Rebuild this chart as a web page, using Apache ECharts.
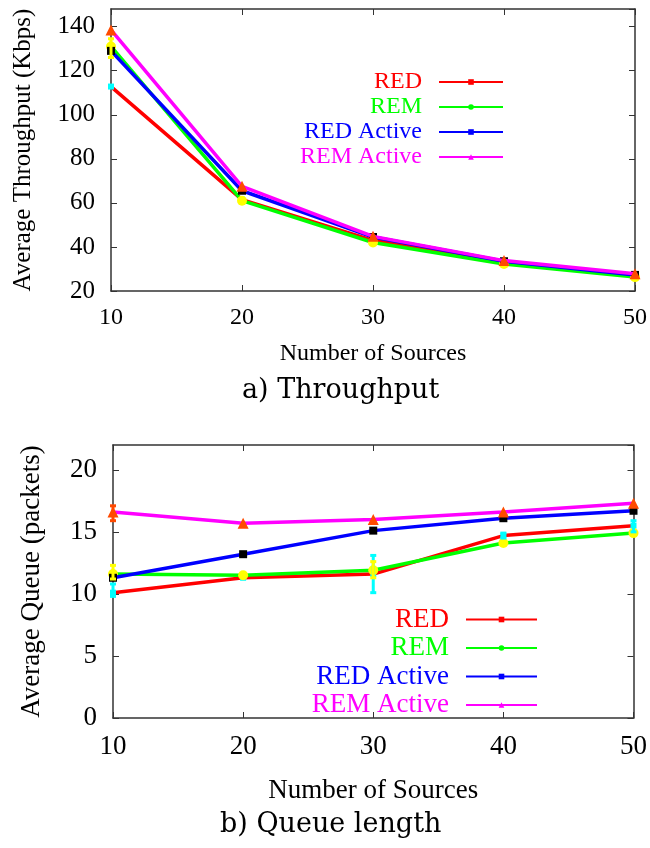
<!DOCTYPE html>
<html>
<head>
<meta charset="utf-8">
<script src="https://cdn.jsdelivr.net/npm/echarts@6/dist/echarts.min.js"></script>
<style>
  html, body { margin: 0; padding: 0; background: #fff; }
  #chart { width: 650px; height: 848px; }
</style>
</head>
<body>
<div id="chart"></div>
<script>
// x values (number of sources)
const sources = [10, 20, 30, 40, 50]
const seriesNames = ['RED', 'REM', 'RED Active', 'REM Active']

// a) throughput, Kbps
const thrRed = [112.8, 61.5, 43.0, 33.0, 27.0]
const thrRem = [131.0, 61.0, 42.0, 32.3, 26.3]
const thrRedActive = [129.0, 65.5, 44.5, 33.5, 27.3]
const thrRemActive = [138.5, 67.5, 44.8, 33.8, 27.8]

// b) queue length, packets
const qRed = [10.1, 11.3, 11.6, 14.7, 15.5]
const qRem = [11.6, 11.5, 11.9, 14.1, 14.9]
const qRedActive = [11.3, 13.2, 15.1, 16.1, 16.7]
const qRemActive = [16.6, 15.7, 16.0, 16.6, 17.3]

// error bars: [x, low, high]
const thrRemErr = [[10, 126, 134.5]]
const qRedErr = [[10, 9.8, 10.8], [30, 10.1, 13.1], [40, 14.5, 14.9], [50, 15.0, 15.9]]
const qRemErr = [[10, 11.2, 12.3], [30, 11.3, 12.6]]
const qRemActiveErr = [[10, 15.9, 17.1]]

const lineColors = ['#ff0000', '#00ff00', '#0000ff', '#ff00ff']
const markColors = ['#00ffff', '#ffff00', '#000000', '#ff4a00']
const markSymbols = ['rect', 'circle', 'rect', 'triangle']
const markSizes = [6, 10, 8, 11]

const serif = '"Liberation Serif", "Times New Roman", serif'
const capFont = '"DejaVu Serif", serif'
const axisColor = '#333'

function pairs (ys) {
  return ys.map((y, i) => [sources[i], y])
}

function lineSeries (name, i, ys, gi) {
  return {
    type: 'line',
    name,
    xAxisIndex: gi * 2,
    yAxisIndex: gi * 2,
    data: pairs(ys),
    symbol: markSymbols[i],
    symbolSize: markSizes[i],
    itemStyle: { color: markColors[i] },
    lineStyle: { color: lineColors[i], width: 3.5 },
    z: 2 + i,
    animation: false
  }
}

function errSeries (data, color, gi) {
  return {
    type: 'custom',
    xAxisIndex: gi * 2,
    yAxisIndex: gi * 2,
    data,
    z: 10,
    animation: false,
    renderItem: (params, api) => {
      const lo = api.coord([api.value(0), api.value(1)])
      const hi = api.coord([api.value(0), api.value(2)])
      const st = { stroke: color, lineWidth: 3 }
      return {
        type: 'group',
        children: [
          { type: 'line', shape: { x1: lo[0], y1: lo[1], x2: hi[0], y2: hi[1] }, style: st },
          { type: 'line', shape: { x1: lo[0] - 3, y1: lo[1], x2: lo[0] + 3, y2: lo[1] }, style: st },
          { type: 'line', shape: { x1: hi[0] - 3, y1: hi[1], x2: hi[0] + 3, y2: hi[1] }, style: st }
        ]
      }
    }
  }
}

function xAxes (gi, fontSize, name, nameGap) {
  return [
    {
      type: 'value', gridIndex: gi, min: 10, max: 50, interval: 10,
      name, nameLocation: 'middle', nameGap,
      nameTextStyle: { fontFamily: serif, fontSize, color: '#000' },
      axisLine: { onZero: false, lineStyle: { color: axisColor, width: 1.5 } },
      axisTick: { inside: true, length: 6, lineStyle: { color: axisColor } },
      axisLabel: { fontFamily: serif, fontSize, color: '#000', margin: 15 },
      splitLine: { show: false }
    },
    {
      type: 'value', gridIndex: gi, position: 'top', min: 10, max: 50, interval: 10,
      axisLine: { onZero: false, lineStyle: { color: axisColor, width: 1.5 } },
      axisTick: { inside: true, length: 6, lineStyle: { color: axisColor } },
      axisLabel: { show: false },
      splitLine: { show: false }
    }
  ]
}

function yAxes (gi, min, max, interval, fontSize, name, nameGap) {
  return [
    {
      type: 'value', gridIndex: gi, min, max, interval,
      name, nameLocation: 'middle', nameGap,
      nameTextStyle: { fontFamily: serif, fontSize, color: '#000' },
      axisLine: { show: true, onZero: false, lineStyle: { color: axisColor, width: 1.5 } },
      axisTick: { show: true, inside: true, length: 6, lineStyle: { color: axisColor } },
      axisLabel: { fontFamily: serif, fontSize, color: '#000', margin: 16, showMaxLabel: false },
      splitLine: { show: false }
    },
    {
      type: 'value', gridIndex: gi, position: 'right', min, max, interval,
      axisLine: { show: true, onZero: false, lineStyle: { color: axisColor, width: 1.5 } },
      axisTick: { show: true, inside: true, length: 6, lineStyle: { color: axisColor } },
      axisLabel: { show: false },
      splitLine: { show: false }
    }
  ]
}

function legend (top, right, fontSize, itemWidth, itemGap) {
  return {
    orient: 'vertical',
    top, right,
    padding: 0,
    align: 'right',
    itemWidth,
    itemHeight: 7,
    itemGap,
    selectedMode: false,
    textStyle: { fontFamily: serif, fontSize, lineHeight: fontSize, padding: [0, 12, 0, 0] },
    data: seriesNames.map((n, i) => ({
      name: n,
      itemStyle: { color: lineColors[i] },
      textStyle: { color: lineColors[i] }
    }))
  }
}

const chart = echarts.init(document.getElementById('chart'), null, { renderer: 'canvas' })

chart.setOption({
  backgroundColor: '#fff',
  animation: false,
  title: [
    { text: 'a) Throughput', left: 242, top: 377, padding: 0, textStyle: { fontFamily: capFont, fontWeight: 'normal', fontSize: 27, color: '#000' } },
    { text: 'b) Queue length', left: 220, top: 811, padding: 0, textStyle: { fontFamily: capFont, fontWeight: 'normal', fontSize: 27, color: '#000' } }
  ],
  grid: [
    { left: 111, right: 15, top: 9, height: 282 },
    { left: 113, right: 15, top: 445, height: 273 }
  ],
  legend: [
    legend(70, 146, 24, 64, 1),
    legend(606, 112, 27, 71, 1.5)
  ],
  xAxis: [
    ...xAxes(0, 24, 'Number of Sources', 51),
    ...xAxes(1, 27, 'Number of Sources', 59)
  ],
  yAxis: [
    ...yAxes(0, 20, 148, 20, 25, 'Average Throughput (Kbps)', 75),
    ...yAxes(1, 0, 22, 5, 27, 'Average Queue (packets)', 68)
  ],
  series: [
    lineSeries('RED', 0, thrRed, 0),
    lineSeries('REM', 1, thrRem, 0),
    lineSeries('RED Active', 2, thrRedActive, 0),
    lineSeries('REM Active', 3, thrRemActive, 0),
    errSeries(thrRemErr, markColors[1], 0),
    lineSeries('RED', 0, qRed, 1),
    lineSeries('REM', 1, qRem, 1),
    lineSeries('RED Active', 2, qRedActive, 1),
    lineSeries('REM Active', 3, qRemActive, 1),
    errSeries(qRedErr, markColors[0], 1),
    errSeries(qRemErr, markColors[1], 1),
    errSeries(qRemActiveErr, markColors[3], 1)
  ]
})
</script>
</body>
</html>
